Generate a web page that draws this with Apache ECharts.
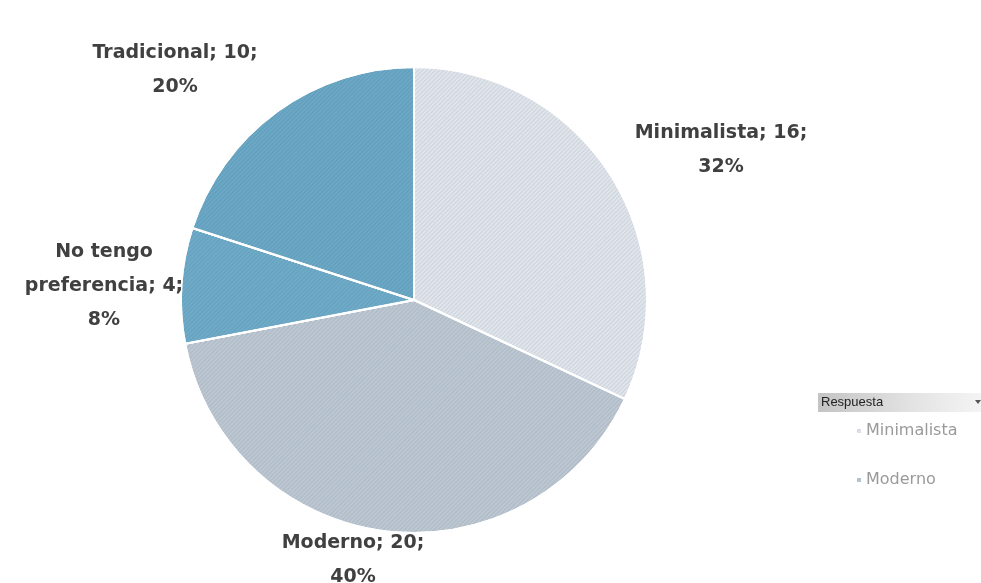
<!DOCTYPE html>
<html>
<head>
<meta charset="utf-8">
<script src="https://cdn.jsdelivr.net/npm/echarts@6/dist/echarts.min.js"></script>
<style>
html,body{margin:0;padding:0;background:#fff;}
#chart{width:981px;height:583px;}
</style>
</head>
<body>
<div id="chart"></div>
<script>
const categories = ['Minimalista', 'Moderno', 'No tengo preferencia', 'Tradicional'];
const values = [16, 20, 4, 10];
const percents = ['32%', '40%', '8%', '20%'];
const legendItems = ['Minimalista', 'Moderno'];
const legendTitle = 'Respuesta';

const colors = ['#e0e4eb', '#bcc7d2', '#6eabc8', '#6aa8c6'];
const labelTexts = [
  'Minimalista; 16;\n32%',
  'Moderno; 20;\n40%',
  'No tengo\npreferencia; 4;\n8%',
  'Tradicional; 10;\n20%'
];
const labelPos = [[721, 150], [353, 560], [104, 286], [175, 70]];

const chart = echarts.init(document.getElementById('chart'));
const hatch = {
  symbol: 'rect', symbolSize: 1, dashArrayX: [1, 0], dashArrayY: [1, 2],
  rotation: -Math.PI / 4, color: 'rgba(40,60,80,0.10)'
};
chart.setOption({
  backgroundColor: '#ffffff',
  animation: false,
  legend: {
    data: legendItems,
    orient: 'vertical',
    left: 850,
    top: 418,
    itemWidth: 6,
    itemHeight: 6,
    itemGap: 33,
    icon: 'rect',
    textStyle: { color: '#9a9a9a', fontSize: 16, fontFamily: 'DejaVu Sans', padding: [0, 0, 0, -1] },
    selectedMode: false
  },
  graphic: [
    {
      type: 'rect', shape: { x: 818, y: 393, width: 163, height: 19 },
      style: {
        fill: new echarts.graphic.LinearGradient(0, 0, 1, 0, [
          { offset: 0, color: '#c4c4c4' }, { offset: 0.6, color: '#e4e4e4' }, { offset: 1, color: '#f4f4f4' }
        ])
      }
    },
    {
      type: 'text', x: 821, y: 396,
      style: { text: legendTitle, fill: '#222', font: '13px "Liberation Sans Narrow", "Liberation Sans", sans-serif' }
    },
    {
      type: 'polygon', shape: { points: [[975, 400], [981, 400], [978, 404]] },
      style: { fill: '#555' }
    }
  ],
  series: [{
    type: 'pie',
    center: [414, 300],
    radius: 233,
    startAngle: 90,
    clockwise: true,
    data: categories.map((c, i) => ({
      name: c,
      value: values[i],
      itemStyle: { color: colors[i], decal: hatch },
      label: { formatter: labelTexts[i] }
    })),
    itemStyle: { borderColor: '#ffffff', borderWidth: 2 },
    label: {
      show: true,
      position: 'outside',
      color: '#404040',
      fontSize: 19,
      fontWeight: 'bold',
      fontFamily: 'DejaVu Sans',
      lineHeight: 34,
      align: 'center',
      overflow: 'none',
      width: 260
    },
    labelLine: { show: false },
    labelLayout: function (p) {
      const pos = labelPos[p.dataIndex];
      return { x: pos[0], y: pos[1], align: 'center', verticalAlign: 'middle' };
    },
    emphasis: { disabled: true }
  }]
});
</script>
</body>
</html>
